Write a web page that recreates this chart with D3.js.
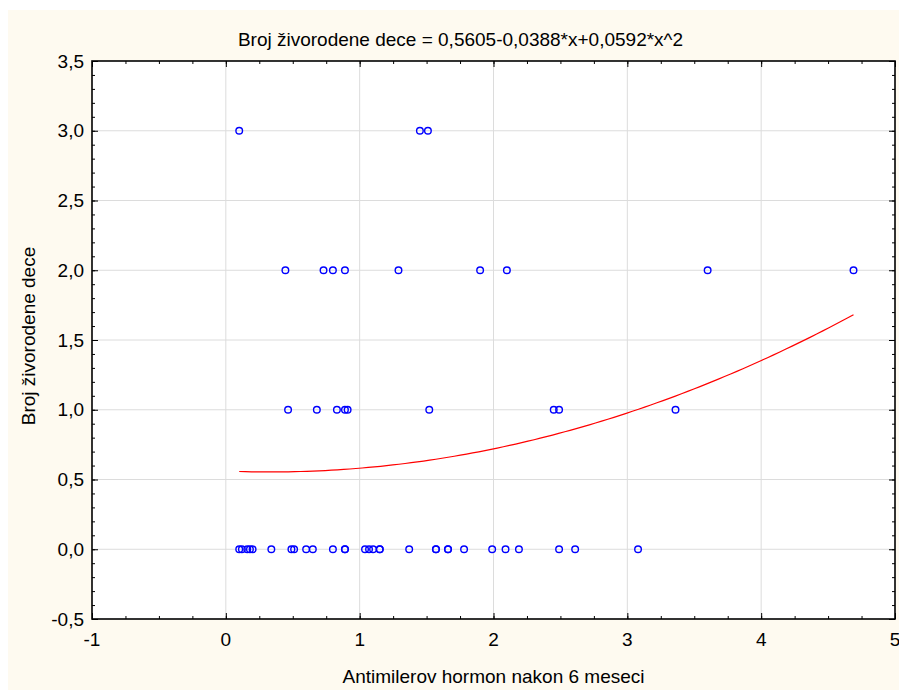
<!DOCTYPE html>
<html>
<head>
<meta charset="utf-8">
<script src="https://cdn.jsdelivr.net/npm/d3@7"></script>
<style>
  body { margin: 0; background: #fff; }
  text { font-family: "Liberation Sans", Arial, sans-serif; }
</style>
</head>
<body>
<script>
// data
var xs0 = [0.10, 0.12, 0.16, 0.18, 0.20, 0.34, 0.49, 0.51, 0.60, 0.65, 0.80, 0.89, 0.89,
           1.04, 1.07, 1.10, 1.15, 1.15, 1.37, 1.57, 1.57, 1.66, 1.66, 1.78, 1.99, 2.09,
           2.19, 2.49, 2.61, 3.08];
var xs1 = [0.465, 0.68, 0.83, 0.89, 0.91, 1.52, 2.45, 2.49, 3.36];
var xs2 = [0.445, 0.73, 0.80, 0.89, 1.29, 1.90, 2.10, 3.60, 4.69];
var xs3 = [0.10, 1.45, 1.51];
var yLevels = [0, 1, 2, 3];
var coef = [0.5605, -0.0388, 0.0592]; // fit from the title
var title = "Broj živorodene dece = 0,5605-0,0388*x+0,0592*x^2";
var xTitle = "Antimilerov hormon nakon 6 meseci";
var yTitle = "Broj živorodene dece";
var xTicks = [-1, 0, 1, 2, 3, 4, 5];
var yTicks = [-0.5, 0, 0.5, 1, 1.5, 2, 2.5, 3, 3.5];

var width = 899, height = 690;
var pLeft = 92, pRight = 895, pTop = 61, pBottom = 619;

var svg = d3.select("body").append("svg")
    .attr("width", width)
    .attr("height", height);

// cream frame
svg.append("rect")
    .attr("x", 8).attr("y", 10)
    .attr("width", width - 8).attr("height", height - 10)
    .attr("fill", "#fefaf0");

var x = d3.scaleLinear().domain([-1, 5]).range([pLeft, pRight]);
var y = d3.scaleLinear().domain([-0.5, 3.5]).range([pBottom, pTop]);

svg.append("rect")
    .attr("x", pLeft).attr("y", pTop)
    .attr("width", pRight - pLeft).attr("height", pBottom - pTop)
    .attr("fill", "#fff");

// grid
svg.selectAll(".gx").data(xTicks.slice(1, -1)).enter().append("line")
    .attr("x1", d => x(d)).attr("x2", d => x(d))
    .attr("y1", pTop).attr("y2", pBottom)
    .attr("stroke", "#dcdcdc").attr("stroke-width", 1);
svg.selectAll(".gy").data(yTicks.slice(1, -1)).enter().append("line")
    .attr("y1", d => y(d)).attr("y2", d => y(d))
    .attr("x1", pLeft).attr("x2", pRight)
    .attr("stroke", "#dcdcdc").attr("stroke-width", 1);

// fitted curve
var allX = xs0.concat(xs1, xs2, xs3);
var xmin = d3.min(allX), xmax = d3.max(allX);
var curve = d3.range(0, 101).map(function(i) {
    var xv = xmin + (xmax - xmin) * i / 100;
    return [xv, coef[0] + coef[1] * xv + coef[2] * xv * xv];
});
svg.append("path")
    .datum(curve)
    .attr("d", d3.line().x(d => x(d[0])).y(d => y(d[1])))
    .attr("fill", "none")
    .attr("stroke", "#ff0000")
    .attr("stroke-width", 1.2);

// points
var pts = [];
[xs0, xs1, xs2, xs3].forEach(function(arr, i) {
    arr.forEach(function(v) { pts.push([v, yLevels[i]]); });
});
svg.selectAll(".pt").data(pts).enter().append("circle")
    .attr("cx", d => x(d[0])).attr("cy", d => y(d[1]))
    .attr("r", 3.3)
    .attr("fill", "none")
    .attr("stroke", "#0000ff")
    .attr("stroke-width", 1.4);

// axes with inward ticks
var xMinor = d3.range(-1, 5.001, 0.25);
var yMinor = d3.range(-0.5, 3.501, 0.1);

svg.append("g").attr("transform", "translate(0," + pBottom + ")")
    .call(d3.axisTop(x).tickValues(xMinor).tickSize(3).tickFormat(""));
svg.append("g").attr("transform", "translate(0," + pBottom + ")")
    .call(d3.axisTop(x).tickValues(xTicks).tickSize(6).tickFormat(""));
svg.append("g").attr("transform", "translate(0," + pTop + ")")
    .call(d3.axisBottom(x).tickValues(xMinor).tickSize(3).tickFormat(""));
svg.append("g").attr("transform", "translate(0," + pTop + ")")
    .call(d3.axisBottom(x).tickValues(xTicks).tickSize(6).tickFormat(""));
svg.append("g").attr("transform", "translate(" + pLeft + ",0)")
    .call(d3.axisRight(y).tickValues(yMinor).tickSize(3).tickFormat(""));
svg.append("g").attr("transform", "translate(" + pLeft + ",0)")
    .call(d3.axisRight(y).tickValues(yTicks).tickSize(6).tickFormat(""));
svg.append("g").attr("transform", "translate(" + pRight + ",0)")
    .call(d3.axisLeft(y).tickValues(yMinor).tickSize(3).tickFormat(""));
svg.append("g").attr("transform", "translate(" + pRight + ",0)")
    .call(d3.axisLeft(y).tickValues(yTicks).tickSize(6).tickFormat(""));
svg.selectAll(".domain").attr("stroke", "none");
svg.selectAll(".tick line").attr("stroke", "#000");

// frame
svg.append("rect")
    .attr("x", pLeft).attr("y", pTop)
    .attr("width", pRight - pLeft).attr("height", pBottom - pTop)
    .attr("fill", "none").attr("stroke", "#000").attr("stroke-width", 1.6);

// tick labels
var fmt = d => d3.format(".1f")(d).replace(".", ",").replace("−", "-");
svg.selectAll(".yl").data(yTicks).enter().append("text")
    .attr("x", pLeft - 8).attr("y", d => y(d))
    .attr("dy", "0.35em")
    .attr("text-anchor", "end")
    .attr("font-size", 19)
    .text(fmt);
svg.selectAll(".xl").data(xTicks).enter().append("text")
    .attr("x", d => x(d)).attr("y", pBottom + 27)
    .attr("text-anchor", "middle")
    .attr("font-size", 19)
    .text(d => String(d).replace("−", "-"));

// titles
svg.append("text")
    .attr("x", (pLeft + pRight) / 2 - 33).attr("y", 46)
    .attr("text-anchor", "middle")
    .attr("font-size", 19)
    .text(title);
svg.append("text")
    .attr("x", (pLeft + pRight) / 2).attr("y", 683)
    .attr("text-anchor", "middle")
    .attr("font-size", 19)
    .text(xTitle);
svg.append("text")
    .attr("transform", "translate(35,336) rotate(-90)")
    .attr("text-anchor", "middle")
    .attr("font-size", 19)
    .text(yTitle);
</script>
</body>
</html>
